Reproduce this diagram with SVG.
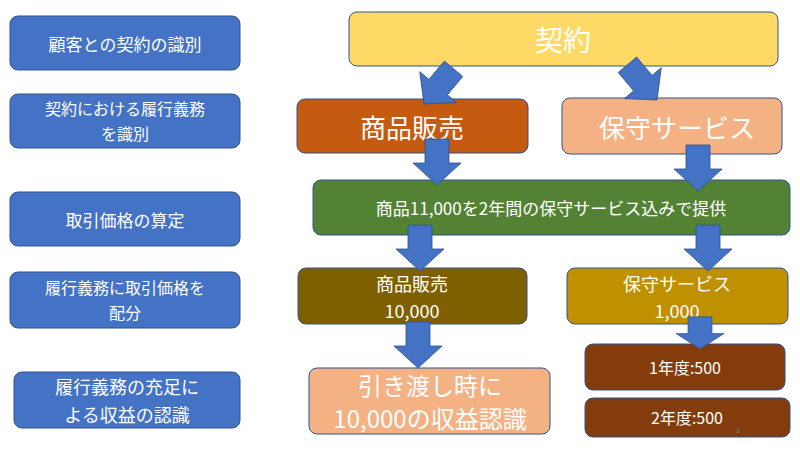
<svg xmlns="http://www.w3.org/2000/svg" width="800" height="450" viewBox="0 0 800 450">
<style>
.s{fill:#4472C4;stroke:#2F528F;stroke-width:1}
.b{stroke:#2F528F;stroke-width:1}
.t{font-family:"Noto Sans CJK JP","Liberation Sans",sans-serif;fill:#fff;text-anchor:middle;dominant-baseline:central}
.a{fill:#4472C4;stroke:#2F528F;stroke-width:0.8}
</style>
<defs><polygon id="arr" points="-12,-46 12,-46 12,-22 24,-22 0,0 -24,-22 -12,-22"/></defs>
<rect width="800" height="450" fill="#fff"/>
<g id="step1"><rect class="s" x="10" y="16" width="230" height="54" rx="8"/><text class="t" x="125" y="43" font-size="17">顧客との契約の識別</text></g>
<g id="step2"><rect class="s" x="10" y="94" width="230" height="54" rx="8"/><text class="t" x="125" y="108" font-size="16">契約における履行義務</text><text class="t" x="125" y="133" font-size="16">を識別</text></g>
<g id="step3"><rect class="s" x="10" y="192" width="230" height="54" rx="8"/><text class="t" x="125" y="219" font-size="17">取引価格の算定</text></g>
<g id="step4"><rect class="s" x="10" y="272" width="230" height="56" rx="8"/><text class="t" x="125" y="287" font-size="16">履行義務に取引価格を</text><text class="t" x="125" y="312" font-size="16">配分</text></g>
<g id="step5"><rect class="s" x="14" y="372" width="226" height="56" rx="8"/><text class="t" x="127" y="386" font-size="18">履行義務の充足に</text><text class="t" x="127" y="414" font-size="18">よる収益の認識</text></g>
<g id="contract"><rect class="b" fill="#FFD966" x="349" y="12" width="429" height="54" rx="8"/><text class="t" x="563" y="39" font-size="28">契約</text></g>
<g id="goods"><rect class="b" fill="#C55A11" x="297" y="99" width="231" height="54" rx="8"/><text class="t" x="412" y="126" font-size="26">商品販売</text></g>
<g id="service"><rect class="b" fill="#F4B183" x="562" y="98" width="220" height="56" rx="8"/><text class="t" x="677" y="126" font-size="26">保守サービス</text></g>
<g id="price"><rect class="b" fill="#548235" x="313" y="180" width="477" height="55" rx="8"/><text class="t" x="551" y="207" font-size="17">商品11,000を2年間の保守サービス込みで提供</text></g>
<g id="alloc-goods"><rect class="b" fill="#7F6000" x="298" y="268" width="229" height="56" rx="8"/><text class="t" x="412" y="283" font-size="18">商品販売</text><text class="t" x="412" y="310" font-size="18">10,000</text></g>
<g id="alloc-service"><rect class="b" fill="#BF9000" x="567" y="268" width="221" height="56" rx="8"/><text class="t" x="677" y="283" font-size="18">保守サービス</text><text class="t" x="677" y="310" font-size="18">1,000</text></g>
<g id="revenue"><rect class="b" fill="#F4B183" x="309" y="368" width="241" height="66" rx="8"/><text class="t" x="430" y="384" font-size="24">引き渡し時に</text><text class="t" x="430" y="417" font-size="24">10,000の収益認識</text></g>
<g id="year1"><rect class="b" fill="#843C0C" x="585" y="344" width="200" height="46" rx="8"/><text class="t" x="685" y="367" font-size="16">1年度:500</text></g>
<g id="year2"><rect class="b" fill="#843C0C" x="585" y="398" width="205" height="39" rx="8"/><text class="t" x="687" y="417" font-size="16">2年度:500</text></g>
<text x="736" y="433" font-family="Liberation Sans,sans-serif" font-size="7" fill="#7f7f7f">3</text>
<g id="connectors">
<use href="#arr" class="a" transform="translate(424,104) rotate(40)"/>
<use href="#arr" class="a" transform="translate(657,100) rotate(-40)"/>
<use href="#arr" class="a" transform="translate(437,185)"/>
<use href="#arr" class="a" transform="translate(698,191)"/>
<use href="#arr" class="a" transform="translate(420,271)"/>
<use href="#arr" class="a" transform="translate(708,271)"/>
<use href="#arr" class="a" transform="translate(418,368)"/>
<use href="#arr" class="a" transform="translate(700,349) scale(1,0.7)"/>
</g>
</svg>
